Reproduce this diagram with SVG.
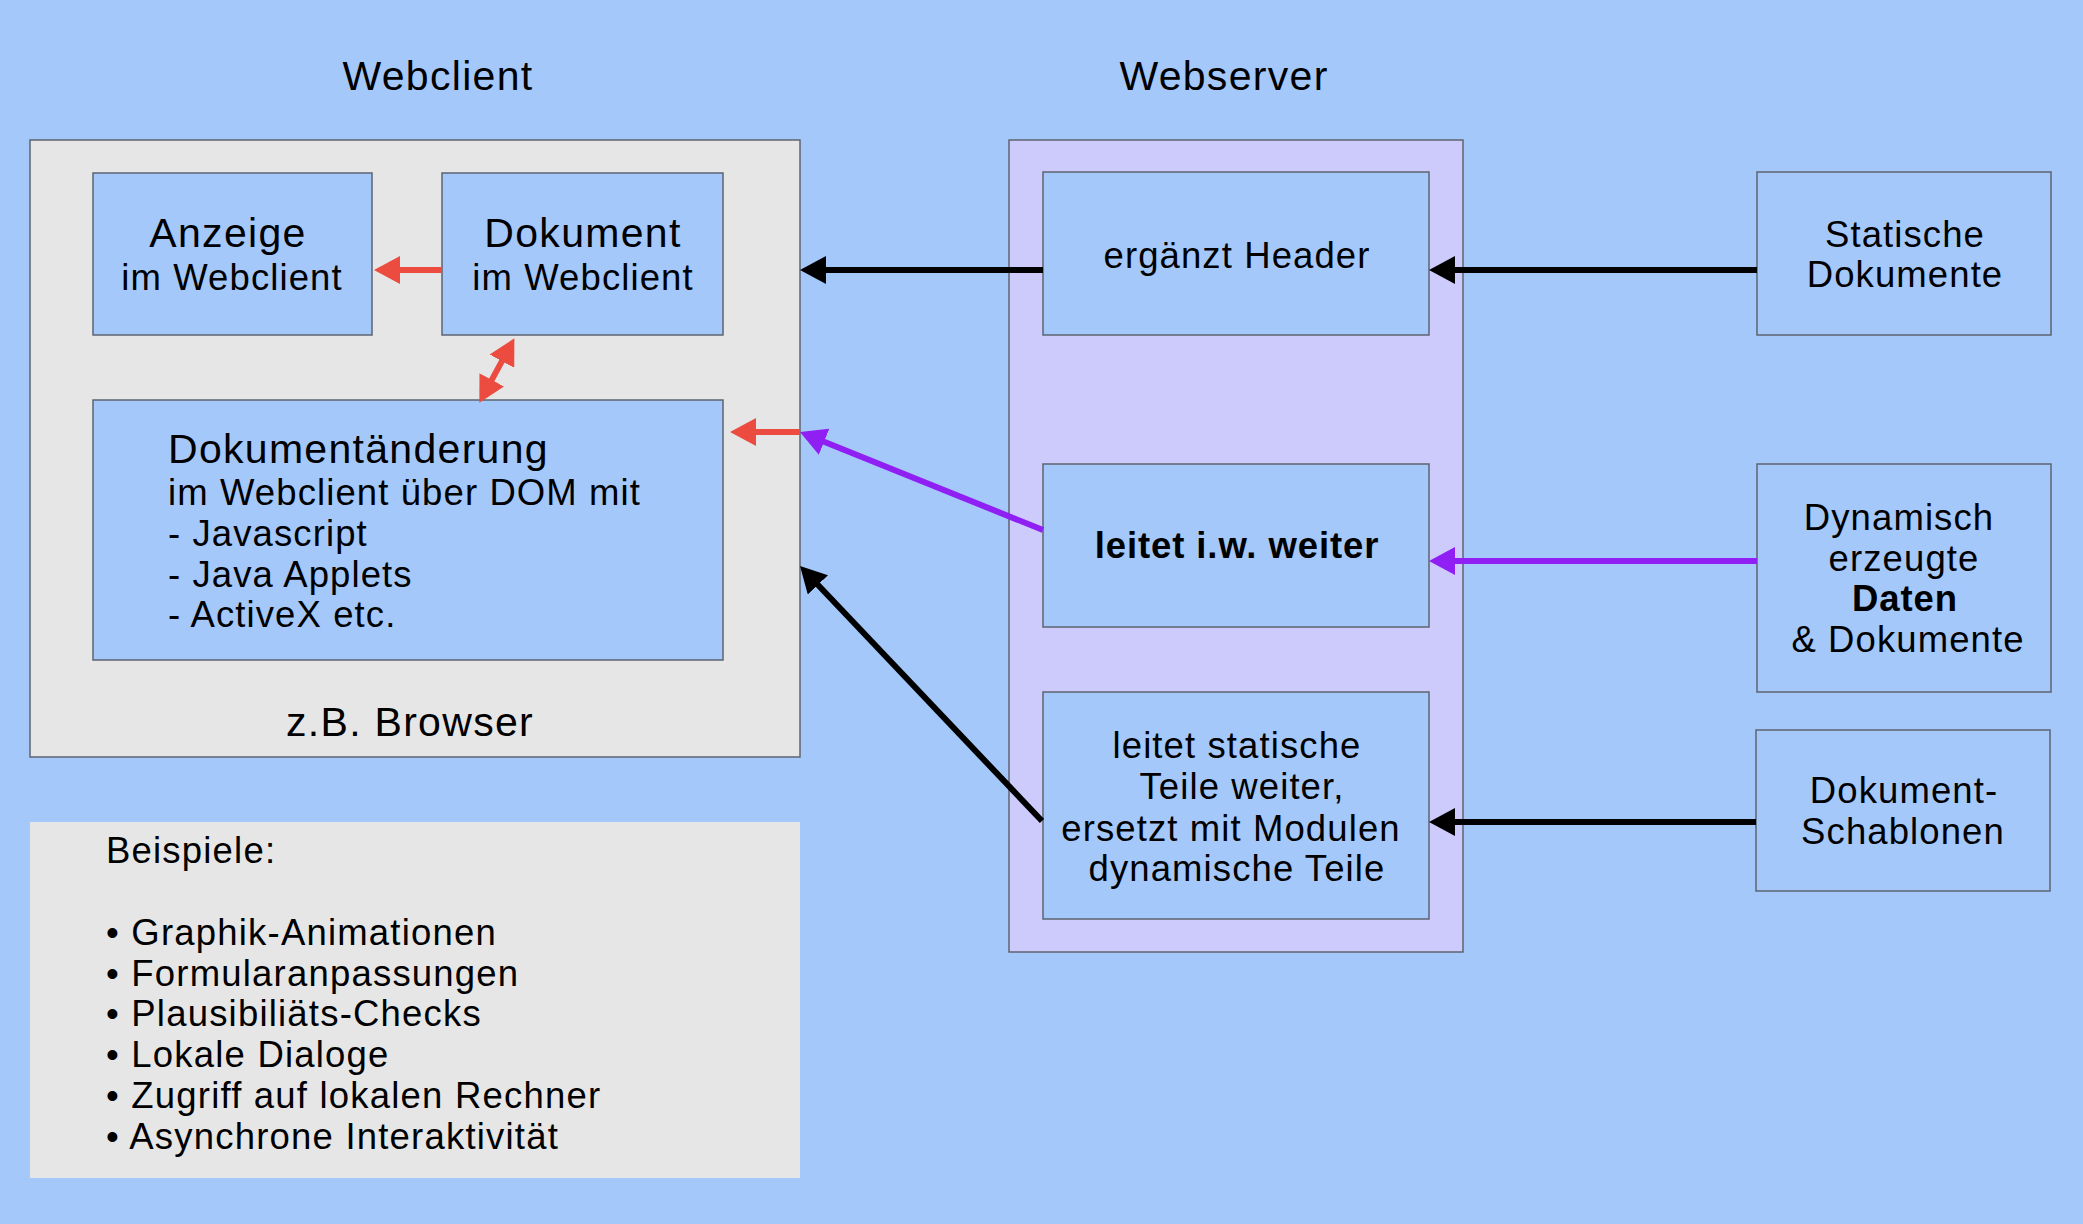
<svg xmlns="http://www.w3.org/2000/svg" width="2083" height="1224" viewBox="0 0 2083 1224">
<style>
  text { font-family: "Liberation Sans", Arial, sans-serif; fill: #000; }
  .big { font-size: 41px; letter-spacing: 1.3px; }
  .norm { font-size: 36.5px; letter-spacing: 1.1px; }
  .ex { font-size: 36.5px; letter-spacing: 1.2px; }
  .bold { font-size: 36.5px; font-weight: bold; letter-spacing: 0.9px; }
  .mid { text-anchor: middle; }
  .node { fill: #a5c8fb; stroke: #5c6470; stroke-width: 1.5; }
  .client { fill: #e6e6e6; stroke: #5c6470; stroke-width: 1.5; }
  .server { fill: #cdcbfb; stroke: #5c6470; stroke-width: 1.5; }
  .conn { fill: none; stroke-width: 6; }
  .black { stroke: #000; }
  .red { stroke: #ec4b40; }
  .purple { stroke: #8f1ff3; }
</style>
<defs>
  <marker id="ah-black" viewBox="0 0 26 28" refX="6" refY="14" markerWidth="26" markerHeight="28" markerUnits="userSpaceOnUse" orient="auto-start-reverse">
    <path d="M0,0 L26,14 L0,28 z" fill="#000"/>
  </marker>
  <marker id="ah-red" viewBox="0 0 26 28" refX="6" refY="14" markerWidth="26" markerHeight="28" markerUnits="userSpaceOnUse" orient="auto-start-reverse">
    <path d="M0,0 L26,14 L0,28 z" fill="#ec4b40"/>
  </marker>
  <marker id="ah-purple" viewBox="0 0 26 28" refX="6" refY="14" markerWidth="26" markerHeight="28" markerUnits="userSpaceOnUse" orient="auto-start-reverse">
    <path d="M0,0 L26,14 L0,28 z" fill="#8f1ff3"/>
  </marker>
</defs>

<rect x="0" y="0" width="2083" height="1224" fill="#a5c8fb"/>

<g id="title-webclient">
  <text class="big mid" x="438" y="90">Webclient</text>
</g>
<g id="title-webserver">
  <text class="big mid" x="1224" y="90">Webserver</text>
</g>

<g id="browser">
  <rect class="client" x="30" y="140" width="770" height="617"/>
  <text class="big mid" x="410" y="736">z.B. Browser</text>
</g>

<g id="anzeige">
  <rect class="node" x="93" y="173" width="279" height="162"/>
  <text class="big mid" x="228" y="247">Anzeige</text>
  <text class="norm mid" x="232" y="290">im Webclient</text>
</g>

<g id="dokument">
  <rect class="node" x="442" y="173" width="281" height="162"/>
  <text class="big mid" x="583" y="247">Dokument</text>
  <text class="norm mid" x="583" y="290">im Webclient</text>
</g>

<g id="dokumentaenderung">
  <rect class="node" x="93" y="400" width="630" height="260"/>
  <text class="big" x="168" y="463">Dokumentänderung</text>
  <text class="norm" x="168" y="505">im Webclient über DOM mit</text>
  <text class="norm" x="168" y="546">- Javascript</text>
  <text class="norm" x="168" y="587">- Java Applets</text>
  <text class="norm" x="168" y="627">- ActiveX etc.</text>
</g>

<g id="beispiele">
  <rect x="30" y="822" width="770" height="356" fill="#e6e6e6"/>
  <text class="ex" x="106" y="863">Beispiele:</text>
  <text class="ex" x="106" y="945">• Graphik-Animationen</text>
  <text class="ex" x="106" y="986">• Formularanpassungen</text>
  <text class="ex" x="106" y="1026">• Plausibiliäts-Checks</text>
  <text class="ex" x="106" y="1067">• Lokale Dialoge</text>
  <text class="ex" x="106" y="1108">• Zugriff auf lokalen Rechner</text>
  <text class="ex" x="106" y="1149">• Asynchrone Interaktivität</text>
</g>

<g id="webserver">
  <rect class="server" x="1009" y="140" width="454" height="812"/>
</g>

<g id="ergaenzt-header">
  <rect class="node" x="1043" y="172" width="386" height="163"/>
  <text class="norm mid" x="1237" y="268">ergänzt Header</text>
</g>

<g id="leitet-weiter">
  <rect class="node" x="1043" y="464" width="386" height="163"/>
  <text class="bold mid" x="1237" y="558">leitet i.w. weiter</text>
</g>

<g id="leitet-statische">
  <rect class="node" x="1043" y="692" width="386" height="227"/>
  <text class="norm mid" x="1237" y="758">leitet statische</text>
  <text class="norm mid" x="1242" y="799">Teile weiter,</text>
  <text class="norm mid" x="1231" y="841">ersetzt mit Modulen</text>
  <text class="norm mid" x="1237" y="881">dynamische Teile</text>
</g>

<g id="statische-dokumente">
  <rect class="node" x="1757" y="172" width="294" height="163"/>
  <text class="norm mid" x="1905" y="247">Statische</text>
  <text class="norm mid" x="1905" y="287">Dokumente</text>
</g>

<g id="dynamische-daten">
  <rect class="node" x="1757" y="464" width="294" height="228"/>
  <text class="norm mid" x="1899" y="530">Dynamisch</text>
  <text class="norm mid" x="1904" y="571">erzeugte</text>
  <text class="bold mid" x="1905" y="611">Daten</text>
  <text class="norm mid" x="1908" y="652">&amp; Dokumente</text>
</g>

<g id="schablonen">
  <rect class="node" x="1756" y="730" width="294" height="161"/>
  <text class="norm mid" x="1904" y="803">Dokument-</text>
  <text class="norm mid" x="1903" y="844">Schablonen</text>
</g>

<g id="connectors">
  <path class="conn red" d="M442,270 L394,270" marker-end="url(#ah-red)"/>
  <path class="conn red" d="M488.9,385.1 L504.8,355.9" marker-start="url(#ah-red)" marker-end="url(#ah-red)"/>
  <path class="conn red" d="M800,432 L750,432" marker-end="url(#ah-red)"/>
  <path class="conn purple" d="M1043,530 L818.5,439.5" marker-end="url(#ah-purple)"/>
  <path class="conn black" d="M1043,270 L820,270" marker-end="url(#ah-black)"/>
  <path class="conn black" d="M1042,821 L813.8,580.5" marker-end="url(#ah-black)"/>
  <path class="conn black" d="M1757,270 L1449,270" marker-end="url(#ah-black)"/>
  <path class="conn purple" d="M1757,561 L1449,561" marker-end="url(#ah-purple)"/>
  <path class="conn black" d="M1756,822 L1449,822" marker-end="url(#ah-black)"/>
</g>
</svg>
